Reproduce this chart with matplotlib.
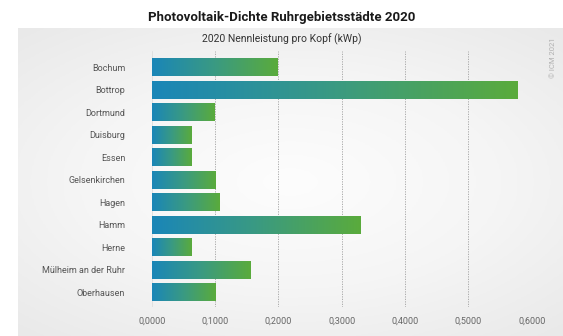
import numpy as np
import matplotlib.pyplot as plt
from matplotlib.colors import LinearSegmentedColormap

cities = ["Bochum", "Bottrop", "Dortmund", "Duisburg", "Essen", "Gelsenkirchen",
          "Hagen", "Hamm", "Herne", "Mülheim an der Ruhr", "Oberhausen"]
values = [0.198, 0.577, 0.098, 0.062, 0.062, 0.0995, 0.106, 0.329, 0.062, 0.156, 0.0995]
ticks = [0.0, 0.1, 0.2, 0.3, 0.4, 0.5, 0.6]
tick_labels = ["0,0000", "0,1000", "0,2000", "0,3000", "0,4000", "0,5000", "0,6000"]

plt.rcParams['font.family'] = ['Roboto', 'DejaVu Sans']

W, H = 563, 336
fig = plt.figure(figsize=(W / 100, H / 100), dpi=100)

# light grey panel with soft radial shading
bg = fig.add_axes([18 / W, 0, 1 - 18 / W, 1 - 28 / H])
yy, xx = np.mgrid[-1:1:200j, -1:1:300j]
r = np.sqrt((xx * 0.9) ** 2 + (yy * 1.0) ** 2)
bg_cmap = LinearSegmentedColormap.from_list("bg", ["#fdfdfd", "#f5f5f5", "#e8e8e8"])
bg.imshow(r, cmap=bg_cmap, aspect="auto", extent=[0, 1, 0, 1], vmin=0, vmax=1.4)
bg.axis("off")

fig.text(0.5, 1 - 17 / H, "Photovoltaik-Dichte Ruhrgebietsstädte 2020",
         ha="center", va="center", fontsize=9.5, fontweight="bold", color="#1a1a1a")
fig.text(0.5, 1 - 39 / H, "2020 Nennleistung pro Kopf (kWp)",
         ha="center", va="center", fontsize=7.5, color="#333333")
fig.text(553 / W, 1 - 58 / H, "© ICM 2021", rotation=90, ha="center", va="center",
         fontsize=5.5, color="#b0b0b0")

x0, x1 = 151.7, 531.7
ax = fig.add_axes([x0 / W, 1 - 307 / H, (x1 - x0) / W, (307 - 51) / H])
ax.set_xlim(0, 0.6)
ax.set_ylim(len(cities) - 0.35, -0.72)
ax.patch.set_alpha(0)

grad = np.linspace(0, 1, 256).reshape(1, -1)
bar_cmap = LinearSegmentedColormap.from_list("bar", ["#1a86b8", "#3a9a82", "#5aab3c"])
h = 0.78
for i, v in enumerate(values):
    ax.imshow(grad, cmap=bar_cmap, aspect="auto",
              extent=[0, v, i + h / 2, i - h / 2], zorder=3)

for t in ticks[1:]:
    ax.axvline(t, color="#a0a0a0", lw=0.6, ls=(0, (1.5, 1.5)), zorder=1)
ax.axvline(0, color="#dedede", lw=0.6, zorder=1)

ax.set_yticks(range(len(cities)))
ax.set_yticklabels(cities, fontsize=6.5, color="#555555")
ax.set_xticks(ticks)
ax.set_xticklabels(tick_labels, fontsize=6.5, color="#666666")
ax.tick_params(length=0)
ax.tick_params(axis="y", pad=19)
ax.tick_params(axis="x", pad=7)
for s in ax.spines.values():
    s.set_visible(False)

fig.savefig("out.png", dpi=100)
